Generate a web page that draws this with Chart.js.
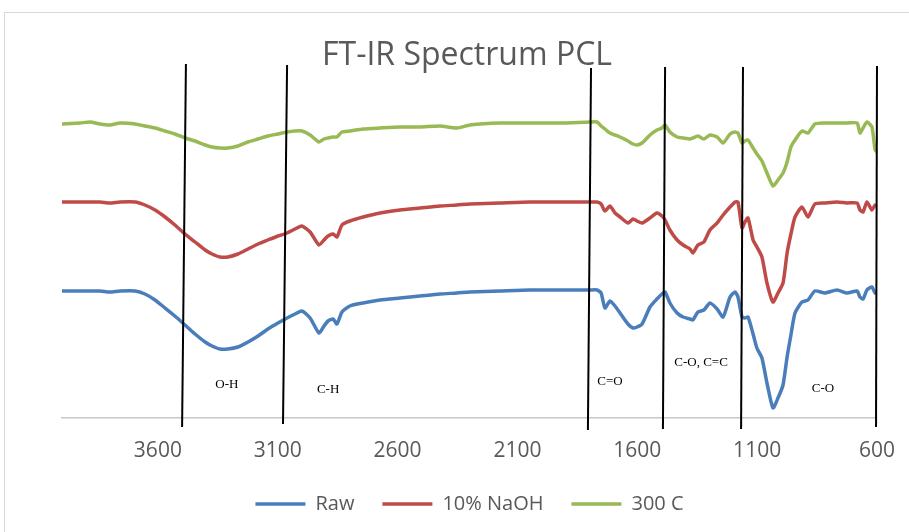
<!DOCTYPE html>
<html>
<head>
<meta charset="utf-8">
<title>FT-IR Spectrum PCL</title>
<script src="https://cdn.jsdelivr.net/npm/chart.js@4"></script>
<style>
  html, body { margin: 0; padding: 0; background: #fff; }
  canvas { display: block; }
</style>
</head>
<body>
<canvas id="ftir" width="909" height="532"></canvas>
<script>
// wavenumber (cm-1), shared by all three spectra
const wavenumber = [4000, 3925, 3883, 3841, 3800, 3758, 3695, 3654, 3612, 3570,
  3529, 3487, 3445, 3403, 3374, 3341, 3308, 3266, 3224, 3182,
  3141, 3099, 3061, 3028, 2999, 2965, 2928, 2907, 2890, 2869,
  2853, 2832, 2799, 2744, 2673, 2590, 2506, 2423, 2352, 2298,
  2173, 2048, 1922, 1797, 1768, 1751, 1735, 1714, 1693, 1672,
  1639, 1618, 1601, 1580, 1547, 1518, 1497, 1484, 1464, 1434,
  1409, 1380, 1368, 1347, 1322, 1297, 1267, 1242, 1213, 1192,
  1180, 1163, 1151, 1138, 1117, 1101, 1080, 1059, 1034, 1013,
  992, 975, 959, 942, 913, 888, 859, 817, 767, 725,
  683, 671, 658, 642, 621, 608, 600];

// offset transmittance, arbitrary units
const raw = [127, 127, 127, 127, 126, 127, 127, 124, 118, 110,
  102, 93, 84, 76, 72, 69, 69, 71, 76, 82,
  89, 95, 100, 104, 107, 100, 85, 92, 97, 99,
  94, 106, 112, 115, 118, 120, 122, 124, 125, 126,
  127, 128, 128, 128, 128, 125, 110, 117, 112, 105,
  94, 90, 91, 94, 111, 119, 124, 126, 115, 105,
  101, 99, 98, 106, 108, 115, 109, 101, 121, 126,
  121, 101, 100, 101, 84, 70, 60, 35, 10, 20,
  33, 61, 83, 105, 116, 118, 127, 125, 128, 125,
  127, 121, 119, 128, 131, 125, 126];

const naoh = [216, 216, 216, 216, 215, 216, 216, 213, 208, 201,
  193, 184, 176, 168, 164, 161, 161, 164, 169, 174,
  178, 182, 185, 189, 192, 186, 173, 178, 182, 184,
  181, 193, 197, 201, 205, 208, 210, 212, 213, 214,
  215, 216, 216, 216, 216, 214, 207, 212, 205, 201,
  195, 199, 197, 195, 200, 205, 202, 198, 188, 178,
  173, 169, 165, 173, 176, 188, 195, 203, 211, 216,
  216, 190, 196, 200, 178, 171, 161, 135, 116, 125,
  135, 165, 184, 201, 211, 201, 214, 215, 216, 215,
  215, 208, 206, 216, 208, 213, 212];

const heated = [294, 295, 296, 294, 293, 295, 294, 292, 290, 287,
  284, 280, 277, 273, 271, 270, 270, 272, 276, 279,
  282, 284, 286, 287, 287, 283, 276, 279, 280, 281,
  281, 286, 287, 289, 290, 291, 291, 292, 290, 293,
  295, 295, 295, 296, 296, 292, 289, 285, 283, 281,
  277, 274, 273, 275, 283, 288, 290, 293, 286, 281,
  280, 279, 280, 282, 279, 283, 281, 275, 284, 286,
  285, 275, 277, 278, 270, 264, 257, 245, 232, 238,
  245, 256, 271, 278, 287, 285, 294, 295, 295, 295,
  295, 285, 290, 296, 291, 268, 266];

const tickValues = [3600, 3100, 2600, 2100, 1600, 1100, 600];

// hand-drawn band markers: wavenumber and height at each end of the line
const bandTopX = [3483, 3061, 1793, 1484, 1159, 600];
const bandBottomX = [3499, 3078, 1806, 1493, 1167, 604];
const bandTopY = [354, 353, 350, 351, 351, 352];
const bandBottomY = [-9, -6, -12, -11, -11, -9];

const bandLabels = ['O-H', 'C-H', 'C=O', 'C-O, C=C', 'C-O'];
const bandLabelX = [3312, 2890, 1714, 1334, 825];
const bandLabelY = [33, 28, 36, 55, 29];

const FONT = "'Open Sans', sans-serif";
const GREY = '#595959';

const toPoints = ys => wavenumber.map((x, i) => ({ x, y: ys[i] }));

const series = (label, ys, color) => ({
  label,
  data: toPoints(ys),
  borderColor: color,
  backgroundColor: color,
  borderWidth: 3.5,
  borderCapStyle: 'round',
  borderJoinStyle: 'round',
  pointRadius: 0,
  pointStyle: 'line',
  tension: 0.2,
  fill: false
});

const decor = {
  id: 'decor',
  beforeDraw(chart) {
    const ctx = chart.ctx;
    ctx.save();
    ctx.fillStyle = '#fff';
    ctx.fillRect(0, 0, chart.width, chart.height);
    ctx.strokeStyle = '#d9d9d9';
    ctx.lineWidth = 1;
    ctx.strokeRect(4.5, 12.5, chart.width, chart.height);
    ctx.fillStyle = GREY;
    ctx.font = '32px ' + FONT;
    ctx.textAlign = 'center';
    ctx.textBaseline = 'alphabetic';
    ctx.fillText('FT-IR Spectrum PCL', 467, 65);
    ctx.restore();
  },
  afterDatasetsDraw(chart) {
    const { ctx, scales: { x, y } } = chart;
    ctx.save();
    ctx.strokeStyle = '#000';
    ctx.lineWidth = 2;
    bandTopX.forEach((v, i) => {
      ctx.beginPath();
      ctx.moveTo(x.getPixelForValue(v), y.getPixelForValue(bandTopY[i]));
      ctx.lineTo(x.getPixelForValue(bandBottomX[i]), y.getPixelForValue(bandBottomY[i]));
      ctx.stroke();
    });
    ctx.fillStyle = '#000';
    ctx.font = '13px "Liberation Serif", "Times New Roman", serif';
    ctx.textAlign = 'center';
    ctx.textBaseline = 'middle';
    bandLabels.forEach((t, i) => {
      ctx.fillText(t, x.getPixelForValue(bandLabelX[i]), y.getPixelForValue(bandLabelY[i]));
    });
    ctx.restore();
  }
};

new Chart(document.getElementById('ftir'), {
  type: 'line',
  data: {
    datasets: [
      series('Raw', raw, '#4a7ebb'),
      series('10% NaOH', naoh, '#be4b48'),
      series('300 C', heated, '#98b954')
    ]
  },
  options: {
    responsive: false,
    animation: false,
    devicePixelRatio: 1,
    layout: { padding: { left: 62, right: 32, top: 68, bottom: 8 } },
    scales: {
      x: {
        type: 'linear',
        reverse: true,
        min: 600,
        max: 4000,
        grid: { display: false, drawTicks: false },
        border: { display: true, color: '#c8c8c8', width: 1.5 },
        afterBuildTicks: axis => { axis.ticks = tickValues.map(v => ({ value: v })); },
        afterFit: axis => { axis.height = 48; },
        ticks: {
          padding: 14,
          autoSkip: false,
          maxRotation: 0,
          color: GREY,
          font: { size: 21, family: FONT, lineHeight: 1.8 },
          callback: v => String(v)
        }
      },
      y: { display: false, min: 0, max: 350 }
    },
    plugins: {
      title: { display: false },
      tooltip: { enabled: false },
      legend: {
        position: 'bottom',
        labels: {
          usePointStyle: true,
          pointStyleWidth: 50,
          padding: 28,
          color: GREY,
          font: { size: 20, family: FONT }
        }
      }
    }
  },
  plugins: [decor]
});
</script>
</body>
</html>
